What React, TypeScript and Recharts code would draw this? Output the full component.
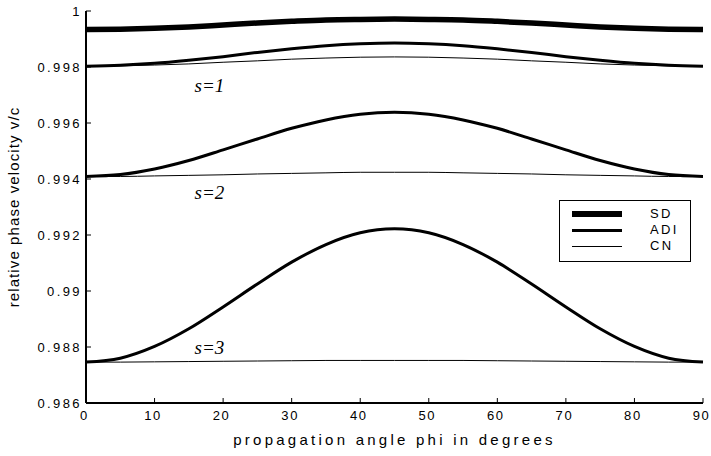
import {
  LineChart,
  Line,
  XAxis,
  YAxis,
  Legend,
  ReferenceDot,
  Label,
} from "recharts";

// propagation angle phi, degrees
const angles = [0, 5, 10, 15, 20, 25, 30, 35, 40, 45, 50, 55, 60, 65, 70, 75, 80, 85, 90];

// SD is the same for every s (thick band at the top)
const sd = [0.99934, 0.99935, 0.99938, 0.99943, 0.9995, 0.99957, 0.99963, 0.99968, 0.9997, 0.99971, 0.9997, 0.99968, 0.99963, 0.99957, 0.9995, 0.99943, 0.99938, 0.99935, 0.99934];

const adi1 = [0.99803, 0.99806, 0.99813, 0.99824, 0.99837, 0.99852, 0.99865, 0.99876, 0.99883, 0.99886, 0.99883, 0.99876, 0.99865, 0.99852, 0.99837, 0.99824, 0.99813, 0.99806, 0.99803];
const cn1 = [0.99803, 0.99804, 0.99807, 0.99811, 0.99817, 0.99822, 0.99828, 0.99832, 0.99835, 0.99836, 0.99835, 0.99832, 0.99828, 0.99822, 0.99817, 0.99811, 0.99807, 0.99804, 0.99803];

const adi2 = [0.99409, 0.99416, 0.99436, 0.99466, 0.99504, 0.99543, 0.99581, 0.99611, 0.99631, 0.99638, 0.99631, 0.99611, 0.99581, 0.99543, 0.99504, 0.99466, 0.99436, 0.99416, 0.99409];
const cn2 = [0.99409, 0.99409, 0.99411, 0.99413, 0.99415, 0.99418, 0.9942, 0.99422, 0.99424, 0.99424, 0.99424, 0.99422, 0.9942, 0.99418, 0.99415, 0.99413, 0.99411, 0.99409, 0.99409];

const adi3 = [0.98746, 0.9876, 0.98802, 0.98865, 0.98943, 0.99025, 0.99103, 0.99166, 0.99208, 0.99222, 0.99208, 0.99166, 0.99103, 0.99025, 0.98943, 0.98865, 0.98802, 0.9876, 0.98746];
const cn3 = [0.98746, 0.98746, 0.98747, 0.98748, 0.98749, 0.9875, 0.98751, 0.98752, 0.98752, 0.98752, 0.98752, 0.98752, 0.98751, 0.9875, 0.98749, 0.98748, 0.98747, 0.98746, 0.98746];

const xTicks = [0, 10, 20, 30, 40, 50, 60, 70, 80, 90];
const yTicks = [0.986, 0.988, 0.99, 0.992, 0.994, 0.996, 0.998, 1];

// where the s=... labels sit (data coords)
const annotations = [
  { x: 18, y: 0.99735, text: "s=1" },
  { x: 18, y: 0.99351, text: "s=2" },
  { x: 18, y: 0.98799, text: "s=3" },
];

const legendItems = [
  { name: "SD", width: 6 },
  { name: "ADI", width: 3 },
  { name: "CN", width: 1 },
];

const data = angles.map((phi, i) => ({
  phi,
  sd: sd[i],
  adi1: adi1[i],
  cn1: cn1[i],
  adi2: adi2[i],
  cn2: cn2[i],
  adi3: adi3[i],
  cn3: cn3[i],
}));

const FONT = "'Liberation Sans', Arial, Helvetica, sans-serif";
const yTickStyle = { fill: "#000", fontSize: 13, fontFamily: FONT, letterSpacing: 2.4 };
const xTickStyle = { fill: "#000", fontSize: 13, fontFamily: FONT, letterSpacing: 1.6, dx: -1.5 };

const fmtY = (v: number) => String(+v.toFixed(3));

function LegendBox() {
  return (
    <div
      style={{
        width: 130,
        height: 60,
        border: "1px solid #000",
        background: "#fff",
        fontFamily: FONT,
        fontSize: 13,
        letterSpacing: 2.4,
        position: "relative",
      }}
    >
      {legendItems.map((it, i) => (
        <div key={it.name} style={{ position: "absolute", top: 6 + i * 16, left: 0, height: 14, width: 130 }}>
          <div
            style={{
              position: "absolute",
              left: 12,
              width: 50,
              top: 7 - it.width / 2,
              height: it.width,
              background: "#000",
            }}
          />
          <span style={{ position: "absolute", left: 90, top: -1, lineHeight: "16px", color: "#000" }}>{it.name}</span>
        </div>
      ))}
    </div>
  );
}

export default function App() {
  const series = [
    { key: "sd", w: 5.5 },
    { key: "adi1", w: 3 },
    { key: "cn1", w: 1 },
    { key: "adi2", w: 3 },
    { key: "cn2", w: 1 },
    { key: "adi3", w: 3 },
    { key: "cn3", w: 1 },
  ];
  return (
    <div style={{ position: "absolute", left: 0, top: 0, background: "#fff" }}>
      <LineChart width={711} height={456} data={data} margin={{ top: 11, right: 8, bottom: 0, left: 0 }}>
        <XAxis
          dataKey="phi"
          type="number"
          domain={[0, 90]}
          ticks={xTicks}
          height={53}
          tickSize={-5}
          tickMargin={13}
          tick={xTickStyle}
          axisLine={{ stroke: "#000", strokeWidth: 2 }}
          tickLine={{ stroke: "#000" }}
          interval={0}
        >
          <Label
            value="propagation angle phi in degrees"
            position="insideBottom"
            offset={11}
            fill="#000"
            fontSize={15}
            fontFamily={FONT}
            letterSpacing={3.25}
          />
        </XAxis>
        <XAxis
          xAxisId="top"
          orientation="top"
          dataKey="phi"
          type="number"
          domain={[0, 90]}
          ticks={xTicks}
          height={0}
          tickSize={-5}
          tick={false}
          axisLine={{ stroke: "#000" }}
          tickLine={{ stroke: "#000" }}
        />
        <YAxis
          type="number"
          domain={[0.986, 1]}
          ticks={yTicks}
          width={86}
          tickSize={-5}
          tickMargin={9}
          tick={yTickStyle}
          tickFormatter={fmtY}
          axisLine={{ stroke: "#000", strokeWidth: 2 }}
          tickLine={{ stroke: "#000" }}
          interval={0}
          allowDataOverflow
        >
          <Label
            value="relative phase velocity v/c"
            angle={-90}
            position="insideLeft"
            offset={14}
            fill="#000"
            fontSize={15}
            letterSpacing={1.1}
            fontFamily={FONT}
            style={{ textAnchor: "middle" }}
          />
        </YAxis>
        <YAxis
          yAxisId="right"
          orientation="right"
          type="number"
          domain={[0.986, 1]}
          ticks={yTicks}
          width={0}
          tickSize={-5}
          tick={false}
          axisLine={{ stroke: "#000" }}
          tickLine={{ stroke: "#000" }}
        />
        {series.map((s) => (
          <Line
            key={s.key}
            dataKey={s.key}
            type="monotone"
            stroke="#000"
            strokeWidth={s.w}
            dot={false}
            activeDot={false}
            isAnimationActive={false}
          />
        ))}
        {annotations.map((a) => (
          <ReferenceDot key={a.text} x={a.x} y={a.y} r={0} fill="none" stroke="none">
            <Label
              value={a.text}
              position="center"
              fill="#000"
              fontSize={19}
              fontStyle="italic"
              fontFamily="'Liberation Serif', 'Times New Roman', serif"
            />
          </ReferenceDot>
        ))}
        <Legend
          layout="vertical"
          align="center"
          verticalAlign="middle"
          content={() => <LegendBox />}
          wrapperStyle={{ left: 559, top: 200, width: 132, height: 62 }}
        />
      </LineChart>
    </div>
  );
}
